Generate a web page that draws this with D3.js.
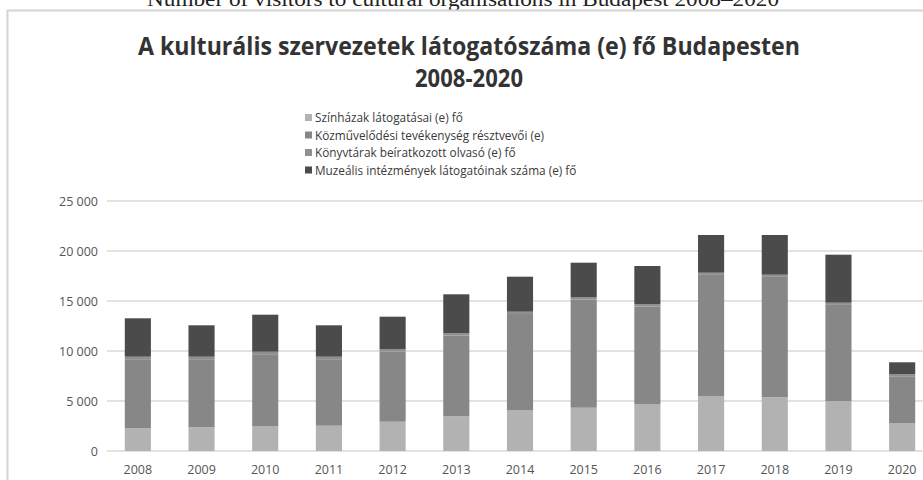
<!DOCTYPE html>
<html lang="hu">
<head>
  <meta charset="UTF-8">
  <title>A kulturális szervezetek látogatószáma</title>
  <style>
    body, html {
      margin: 0;
      padding: 0;
      background: #fff;
      overflow: hidden;
    }
    text {
      font-family: "Open Sans", sans-serif;
    }
  </style>
</head>
<body>
  <svg id="svg" width="923" height="480"></svg>
  <script src="https://d3js.org/d3.v7.min.js"></script>
  <script>
    // data
    const years = ['2008', '2009', '2010', '2011', '2012', '2013', '2014',
      '2015', '2016', '2017', '2018', '2019', '2020']
    const seriesNames = [
      'Színházak látogatásai (e) fő',
      'Közművelődési tevékenység résztvevői (e)',
      'Könyvtárak beíratkozott olvasó (e) fő',
      'Muzeális intézmények látogatóinak száma (e) fő'
    ]
    const szinhazak = [2270, 2370, 2500, 2530, 2930, 3470, 4100, 4330, 4700, 5500, 5370, 5000, 2800]
    const kozmuvelodes = [6910, 6810, 7180, 6650, 7010, 8070, 9600, 10820, 9750, 12110, 12040, 9610, 4670]
    const konyvtarak = [250, 250, 250, 250, 230, 230, 230, 220, 220, 220, 220, 220, 200]
    const muzeumok = [3840, 3140, 3700, 3140, 3260, 3900, 3500, 3460, 3830, 3770, 3970, 4800, 1200]
    const yTicks = [0, 5000, 10000, 15000, 20000, 25000]

    const colors = ['#b2b2b2', '#878787', '#8f8f8f', '#4b4b4b']

    const svg = d3.select('#svg')

    // caption above the frame, mostly cut off
    svg.append('text')
      .attr('x', 463)
      .attr('y', 6)
      .attr('text-anchor', 'middle')
      .style('font-family', '"Liberation Serif", serif')
      .style('font-size', '20px')
      .attr('fill', '#222')
      .attr('textLength', 632)
      .attr('lengthAdjust', 'spacingAndGlyphs')
      .text('Number of visitors to cultural organisations in Budapest 2008–2020')

    // frame of the chart
    svg.append('path')
      .attr('d', 'M7.5,480 V10.5 H923')
      .attr('fill', 'none')
      .attr('stroke', '#d4d4d4')
      .attr('stroke-width', 2)

    // title
    svg.append('text')
      .attr('x', 469)
      .attr('y', 55)
      .attr('text-anchor', 'middle')
      .style('font-size', '25px')
      .style('font-weight', 700)
      .attr('fill', '#333')
      .attr('textLength', 662)
      .attr('lengthAdjust', 'spacingAndGlyphs')
      .text('A kulturális szervezetek látogatószáma (e) fő Budapesten')

    svg.append('text')
      .attr('x', 469)
      .attr('y', 87)
      .attr('text-anchor', 'middle')
      .style('font-size', '25px')
      .style('font-weight', 700)
      .attr('fill', '#333')
      .attr('textLength', 108)
      .attr('lengthAdjust', 'spacingAndGlyphs')
      .text('2008-2020')

    // scales
    const x = d3.scaleBand()
      .domain(years)
      .range([106, 934])
      .paddingInner(0.59)
      .paddingOuter(0.295)

    const y = d3.scaleLinear()
      .domain([0, 25000])
      .range([451, 201])

    // grid lines
    svg.append('g')
      .selectAll('line')
      .data(yTicks)
      .enter()
      .append('line')
      .attr('x1', 107)
      .attr('x2', 923)
      .attr('y1', d => y(d))
      .attr('y2', d => y(d))
      .attr('stroke', '#d9d9d9')
      .attr('stroke-width', 1.5)

    // y axis labels
    const fmt = d => d3.format(',')(d).replace(',', ' ')
    svg.append('g')
      .selectAll('text')
      .data(yTicks)
      .enter()
      .append('text')
      .attr('x', 98)
      .attr('y', d => y(d) + 4.5)
      .attr('text-anchor', 'end')
      .style('font-size', '12.5px')
      .attr('fill', '#555')
      .text(fmt)

    // stacked bars
    const rows = years.map((yr, i) => ({
      year: yr,
      s0: szinhazak[i],
      s1: kozmuvelodes[i],
      s2: konyvtarak[i],
      s3: muzeumok[i]
    }))
    const stack = d3.stack().keys(['s0', 's1', 's2', 's3'])
    const layers = stack(rows)

    svg.append('g')
      .selectAll('g')
      .data(layers)
      .enter()
      .append('g')
      .attr('fill', (d, i) => colors[i])
      .selectAll('rect')
      .data(d => d)
      .enter()
      .append('rect')
      .attr('x', d => x(d.data.year))
      .attr('width', x.bandwidth())
      .attr('y', d => y(d[1]))
      .attr('height', d => y(d[0]) - y(d[1]))

    // x axis labels
    svg.append('g')
      .selectAll('text')
      .data(years)
      .enter()
      .append('text')
      .attr('x', d => x(d) + x.bandwidth() / 2)
      .attr('y', 474)
      .attr('text-anchor', 'middle')
      .style('font-size', '12.5px')
      .attr('fill', '#555')
      .text(d => d)

    // legend
    const legend = svg.append('g')
    legend.selectAll('rect')
      .data(seriesNames)
      .enter()
      .append('rect')
      .attr('x', 305)
      .attr('y', (d, i) => 114 + i * 17.5)
      .attr('width', 7)
      .attr('height', 7)
      .attr('fill', (d, i) => colors[i])

    legend.selectAll('text')
      .data(seriesNames)
      .enter()
      .append('text')
      .attr('x', 315)
      .attr('y', (d, i) => 122 + i * 17.5)
      .style('font-size', '11.8px')
      .attr('fill', '#3a3a3a')
      .text(d => d)
  </script>
</body>
</html>
